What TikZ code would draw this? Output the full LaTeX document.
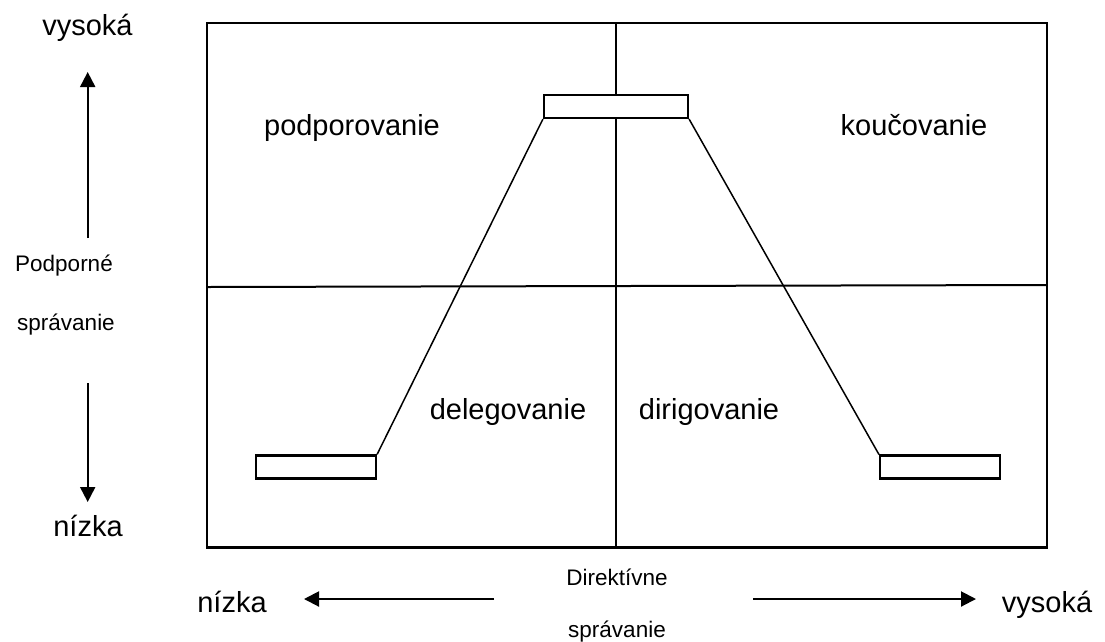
\documentclass[tikz,border=0pt]{standalone}
\usepackage{fontspec}
\setmainfont{Liberation Sans}
\usetikzlibrary{arrows.meta}

\tikzset{
    biglabel/.style={anchor=base, inner sep=0pt, font=\fontsize{29}{34}\selectfont},
    smalllabel/.style={anchor=base, inner sep=0pt, font=\fontsize{22.5}{27}\selectfont},
    stylebox/.style={draw, line width=2.2pt, inner sep=0pt, minimum height=23pt},
    axisarrow/.style={line width=2pt, -{Triangle[length=15pt, width=15pt]}}
}

\begin{document}
\begin{tikzpicture}[x=1pt, y=-1pt]
        \useasboundingbox (0,0) rectangle (1105,641);
        % grid
        \draw[line width=2.2pt] (207,22.7) rectangle (1047,547.5);
        \draw[line width=2pt] (615.5,22.7) -- (615.5,547.5);
        \draw[line width=2pt] (207,287) -- (1047,285);

        % boxes
        \node[stylebox, minimum width=144pt, fill=white] (peak) at (616,106.5) {};
        \node[stylebox, minimum width=120pt] (lowleft) at (316,467) {};
        \node[stylebox, minimum width=120pt] (lowright) at (940,467) {};
        \draw[line width=1.5pt] (peak.south west) -- (lowleft.north east);
        \draw[line width=1.5pt] (peak.south east) -- (lowright.north west);

        % quadrants
        \node[biglabel] (podpor) at (352,135) {podporovanie};
        \node[biglabel] (kouc) at (914,135) {koučovanie};
        \node[biglabel] (deleg) at (508,419) {delegovanie};
        \node[biglabel] (dirig) at (709,419) {dirigovanie};

        % vertical axis
        \node[biglabel] (vhigh) at (87.5,35) {vysoká};
        \node[biglabel] (vlow) at (88,536) {nízka};
        \node[smalllabel] (vname1) at (64,271) {Podporné};
        \node[smalllabel] (vname2) at (66,330) {správanie};
        \coordinate (upstart) at (87.7,238);
        \coordinate (uptip) at (87.7,72);
        \coordinate (downstart) at (87.7,383);
        \coordinate (downtip) at (87.7,502);
        \draw[axisarrow] (upstart) -- (uptip);
        \draw[axisarrow] (downstart) -- (downtip);

        % horizontal axis
        \node[biglabel] (hlow) at (232,612) {nízka};
        \node[biglabel] (hhigh) at (1047,612) {vysoká};
        \node[smalllabel] (hname1) at (617,585) {Direktívne};
        \node[smalllabel] (hname2) at (617,637) {správanie};
        \coordinate (leftstart) at (494,599);
        \coordinate (lefttip) at (304,599);
        \coordinate (rightstart) at (753,599);
        \coordinate (righttip) at (976,599);
        \draw[axisarrow] (leftstart) -- (lefttip);
        \draw[axisarrow] (rightstart) -- (righttip);
\end{tikzpicture}
\end{document}
